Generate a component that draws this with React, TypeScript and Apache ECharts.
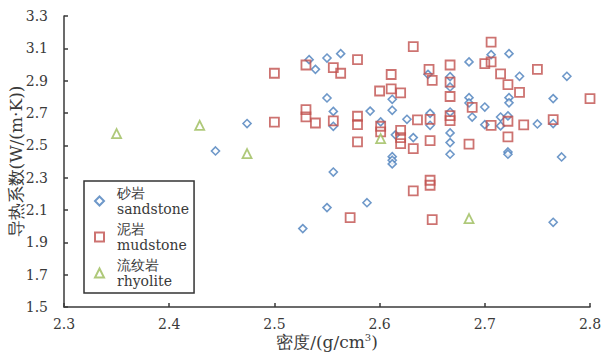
import React, { useEffect, useRef } from "react";
import * as echarts from "echarts";

const sandstone: number[][] = [
  [2.474, 2.635], [2.444, 2.465], [2.533, 3.03], [2.55, 3.04], [2.563, 3.067],
  [2.539, 2.97], [2.646, 2.939], [2.55, 2.793], [2.612, 2.785], [2.612, 2.717],
  [2.556, 2.71], [2.591, 2.712], [2.556, 2.618], [2.626, 2.661], [2.601, 2.645],
  [2.615, 2.565], [2.632, 2.548], [2.612, 2.43], [2.612, 2.408], [2.612, 2.385],
  [2.556, 2.335], [2.648, 2.698], [2.648, 2.624], [2.706, 3.061], [2.723, 3.067],
  [2.685, 3.016], [2.667, 2.925], [2.733, 2.927], [2.778, 2.927], [2.667, 2.861],
  [2.685, 2.795], [2.685, 2.762], [2.723, 2.795], [2.723, 2.763], [2.765, 2.789],
  [2.7, 2.737], [2.667, 2.706], [2.688, 2.675], [2.715, 2.675], [2.722, 2.682],
  [2.7, 2.628], [2.715, 2.62], [2.75, 2.632], [2.765, 2.635], [2.667, 2.577],
  [2.667, 2.517], [2.667, 2.445], [2.722, 2.459], [2.722, 2.445], [2.773, 2.428],
  [2.55, 2.115], [2.588, 2.145], [2.527, 1.985], [2.765, 2.024],
];

const mudstone: number[][] = [
  [2.632, 3.111], [2.53, 2.997], [2.579, 3.03], [2.556, 2.981], [2.563, 2.946],
  [2.5, 2.946], [2.611, 2.938], [2.647, 2.97], [2.65, 2.902], [2.6, 2.836],
  [2.611, 2.849], [2.62, 2.824], [2.53, 2.721], [2.53, 2.676], [2.5, 2.643],
  [2.539, 2.638], [2.556, 2.651], [2.579, 2.68], [2.579, 2.628], [2.579, 2.521],
  [2.636, 2.657], [2.648, 2.661], [2.601, 2.618], [2.601, 2.583], [2.62, 2.593],
  [2.62, 2.548], [2.62, 2.511], [2.632, 2.48], [2.648, 2.529], [2.706, 3.139],
  [2.7, 3.006], [2.706, 3.016], [2.667, 2.997], [2.715, 2.942], [2.75, 2.97],
  [2.722, 2.876], [2.667, 2.891], [2.733, 2.828], [2.667, 2.802], [2.8, 2.789],
  [2.688, 2.735], [2.667, 2.684], [2.667, 2.653], [2.722, 2.649], [2.706, 2.624],
  [2.737, 2.626], [2.765, 2.659], [2.685, 2.508], [2.722, 2.552], [2.572, 2.053],
  [2.632, 2.218], [2.648, 2.284], [2.648, 2.253], [2.65, 2.041],
];

const rhyolite: number[][] = [
  [2.35, 2.573], [2.429, 2.624], [2.474, 2.449], [2.601, 2.542], [2.685, 2.047],
];

const seriesNames = ["砂岩\nsandstone", "泥岩\nmudstone", "流纹岩\nrhyolite"];
const xTicks = { min: 2.3, max: 2.8, interval: 0.1 };
const yTicks = { min: 1.5, max: 3.3, interval: 0.2 };

const FONT = "DejaVu Serif";
const TEXT = "#3a3a3a";
const AXIS = "#3a3a3a";

export default function App() {
  const ref = useRef<HTMLDivElement>(null);
  useEffect(() => {
    if (!ref.current) return;
    const chart = echarts.init(ref.current, undefined, { renderer: "svg" });
    const axisCommon = {
      axisLine: { show: true, lineStyle: { color: AXIS, width: 1.5 } },
      axisTick: { show: true, inside: true, length: 4, lineStyle: { color: AXIS, width: 1.5 } },
      splitLine: { show: false },
      nameMoveOverlap: false,
    };
    chart.setOption({
      animation: false,
      backgroundColor: "#ffffff",
      textStyle: { fontFamily: FONT },
      grid: { left: 64, right: 23, top: 16, bottom: 49, outerBoundsMode: "none", containLabel: false },
      xAxis: {
        type: "value",
        min: xTicks.min,
        max: xTicks.max,
        interval: xTicks.interval,
        ...axisCommon,
        axisLabel: {
          color: TEXT, fontFamily: FONT, fontSize: 14, margin: 10,
          formatter: (v: number) => v.toFixed(1),
        },
        name: "密度/(g/cm{sup|3})",
        nameLocation: "middle",
        nameGap: 25,
        nameTextStyle: {
          color: TEXT, fontFamily: FONT, fontSize: 17, verticalAlign: "top",
          rich: { sup: { fontSize: 10, color: TEXT, fontFamily: FONT, padding: [0, 0, 9, 0] } },
        },
      },
      yAxis: {
        type: "value",
        min: yTicks.min,
        max: yTicks.max,
        interval: yTicks.interval,
        ...axisCommon,
        axisLabel: {
          color: TEXT, fontFamily: FONT, fontSize: 14, margin: 16,
          formatter: (v: number) => v.toFixed(1),
        },
        name: "导热系数(W/(m·K))",
        nameLocation: "middle",
        nameGap: 40,
        nameTextStyle: { color: TEXT, fontFamily: FONT, fontSize: 17 },
      },
      legend: {
        orient: "vertical",
        left: 84,
        top: 181,
        backgroundColor: "#ffffff",
        borderColor: "#333333",
        borderWidth: 1.5,
        borderRadius: 0,
        padding: [4, 5, 4, 10],
        itemWidth: 9,
        itemHeight: 9,
        itemGap: 4,
        textStyle: { color: TEXT, fontFamily: FONT, fontSize: 14, lineHeight: 16, padding: [0, 0, 0, 8] },
        data: seriesNames,
      },
      series: [
        {
          name: seriesNames[0], type: "scatter", data: sandstone, symbol: "diamond", symbolSize: 8,
          itemStyle: { color: "#ffffff", borderColor: "#4a7ebb", borderWidth: 1.6 },
        },
        {
          name: seriesNames[1], type: "scatter", data: mudstone, symbol: "rect", symbolSize: 9,
          itemStyle: { color: "rgba(255,255,255,0)", borderColor: "#c0504d", borderWidth: 1.8 },
        },
        {
          name: seriesNames[2], type: "scatter", data: rhyolite, symbol: "triangle", symbolSize: 9,
          itemStyle: { color: "#ffffff", borderColor: "#9bbb59", borderWidth: 1.8 },
        },
      ],
    });
    return () => chart.dispose();
  }, []);
  return <div ref={ref} style={{ width: 613, height: 356, position: "absolute", left: 0, top: 0 }} />;
}
